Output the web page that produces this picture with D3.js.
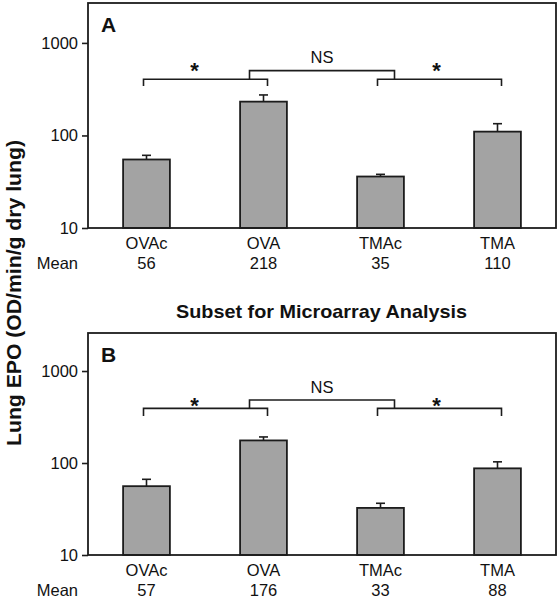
<!DOCTYPE html>
<html><head><meta charset="utf-8">
<script src="https://cdn.jsdelivr.net/npm/d3@7"></script>
<style>
body{margin:0;background:#fff}
svg{display:block}
text{font-family:"Liberation Sans",Arial,Helvetica,sans-serif;fill:#111}
</style>
</head><body>
<svg id="chart" width="560" height="600"></svg>
<script>
// ---- data ----
const categories = ["OVAc", "OVA", "TMAc", "TMA"];
const valuesA = [55, 232, 36, 110];
const errorsA = [61, 274, 38, 134];
const meansA = ["56", "218", "35", "110"];
const valuesB = [56, 176, 32.5, 87.5];
const errorsB = [66.5, 192, 36.5, 103];
const meansB = ["57", "176", "33", "88"];
const yTicks = [10, 100, 1000];
const domainA = [10, 2700];
const domainB = [10, 2590];
// bracket levels in data units: [leg end, pair line, NS line, star centre, NS text centre]
const bracketsA = [343, 405, 502, 568, 706];
const bracketsB = [324, 393, 484, 475, 675];
const panelLabels = ["A", "B"];
const subtitle = "Subset for Microarray Analysis";
const yTitle = "Lung EPO (OD/min/g dry lung)";
const sigLabels = ["*", "NS", "*"];

// ---- layout ----
const svg = d3.select("#chart");
const left = 88, right = 556;
const ink = "#1c1c1c";
const fam = '"Liberation Sans",Arial,sans-serif';

const x = d3.scaleBand().domain(categories).range([left, right])
  .paddingInner(0.6).paddingOuter(0.3);
const bw = x.bandwidth();
const cx = c => x(c) + bw / 2;

function panel(top, bottom, domain, values, errors, means, label, br) {
  const y = d3.scaleLog().domain(domain).range([bottom, top]);
  const g = svg.append("g");

  // y axis ticks
  const ax = g.append("g").attr("transform", `translate(${left},0)`)
    .call(d3.axisLeft(y).tickValues(yTicks).tickFormat(d3.format("d"))
      .tickSize(6).tickPadding(4));
  ax.select(".domain").remove();
  ax.selectAll(".tick line").attr("stroke", ink).attr("stroke-width", 1.6);
  ax.selectAll(".tick text").attr("font-size", "16.5px").attr("fill", "#111")
    .style("font-family", fam);

  // bars
  g.selectAll("rect.bar").data(categories).join("rect")
    .attr("class", "bar")
    .attr("x", d => x(d)).attr("width", bw)
    .attr("y", (d, i) => y(values[i]))
    .attr("height", (d, i) => bottom - y(values[i]))
    .attr("fill", "#a3a3a3").attr("stroke", ink).attr("stroke-width", 1.8);

  // error bars (upper only)
  g.selectAll("line.err").data(categories).join("line")
    .attr("x1", d => cx(d)).attr("x2", d => cx(d))
    .attr("y1", (d, i) => y(values[i])).attr("y2", (d, i) => y(errors[i]))
    .attr("stroke", ink).attr("stroke-width", 1.6);
  g.selectAll("line.cap").data(categories).join("line")
    .attr("x1", d => cx(d) - 4.5).attr("x2", d => cx(d) + 4.5)
    .attr("y1", (d, i) => y(errors[i])).attr("y2", (d, i) => y(errors[i]))
    .attr("stroke", ink).attr("stroke-width", 1.6);

  // frame
  g.append("rect").attr("x", left).attr("y", top)
    .attr("width", right - left).attr("height", bottom - top)
    .attr("fill", "none").attr("stroke", ink).attr("stroke-width", 1.8);

  // panel letter
  g.append("text").attr("x", left + 13).attr("y", top + 28.5)
    .attr("font-size", "21px").attr("font-weight", "bold").text(label);

  // category labels
  const xa = g.append("g").attr("transform", `translate(0,${bottom})`)
    .call(d3.axisBottom(x).tickSize(0).tickPadding(9.5));
  xa.select(".domain").remove();
  xa.selectAll(".tick text").attr("font-size", "16.5px").attr("fill", "#111")
    .style("font-family", fam);

  // means
  g.selectAll("text.mean").data(categories).join("text")
    .attr("class", "mean").attr("x", d => cx(d)).attr("y", bottom + 40.5)
    .attr("text-anchor", "middle").attr("font-size", "16.5px")
    .text((d, i) => means[i]);
  g.append("text").attr("x", left - 10).attr("y", bottom + 40.5)
    .attr("text-anchor", "end").attr("font-size", "16.5px").text("Mean");

  // significance brackets
  const yEnd = y(br[0]), yPair = y(br[1]), yNs = y(br[2]);
  const pairPath = (a, b) =>
    `M${cx(a) - 3},${yEnd}V${yPair}H${cx(b) + 4}V${yEnd}`;
  g.append("path").attr("d", pairPath("OVAc", "OVA"))
    .attr("fill", "none").attr("stroke", ink).attr("stroke-width", 1.6);
  g.append("path").attr("d", pairPath("TMAc", "TMA"))
    .attr("fill", "none").attr("stroke", ink).attr("stroke-width", 1.6);
  g.append("path")
    .attr("d", `M${cx("OVA") - 14},${yPair}V${yNs}H${cx("TMAc") + 14}V${yPair}`)
    .attr("fill", "none").attr("stroke", ink).attr("stroke-width", 1.6);

  const yStar = y(br[3]), yNsText = y(br[4]);
  g.append("text").attr("x", cx("OVAc") + 48).attr("y", yStar + 12.5)
    .attr("text-anchor", "middle").attr("font-size", "22px").attr("font-weight", "bold")
    .text(sigLabels[0]);
  g.append("text").attr("x", (cx("OVA") + cx("TMAc")) / 2).attr("y", yNsText + 6)
    .attr("text-anchor", "middle").attr("font-size", "16.5px").text(sigLabels[1]);
  g.append("text").attr("x", cx("TMAc") + 56).attr("y", yStar + 12.5)
    .attr("text-anchor", "middle").attr("font-size", "22px").attr("font-weight", "bold")
    .text(sigLabels[2]);
}

panel(3, 228, domainA, valuesA, errorsA, meansA, panelLabels[0], bracketsA);
panel(333, 555, domainB, valuesB, errorsB, meansB, panelLabels[1], bracketsB);

// subtitle
svg.append("text").attr("x", 321.5).attr("y", 317.5)
  .attr("text-anchor", "middle").attr("font-size", "18.5px").attr("font-weight", "bold")
  .attr("textLength", 291).attr("lengthAdjust", "spacingAndGlyphs")
  .text(subtitle);

// y-axis title
svg.append("text").attr("transform", "translate(21,293) rotate(-90)")
  .attr("text-anchor", "middle").attr("font-size", "20px").attr("font-weight", "bold")
  .attr("textLength", 306).attr("lengthAdjust", "spacingAndGlyphs")
  .text(yTitle);
</script>
</body></html>
